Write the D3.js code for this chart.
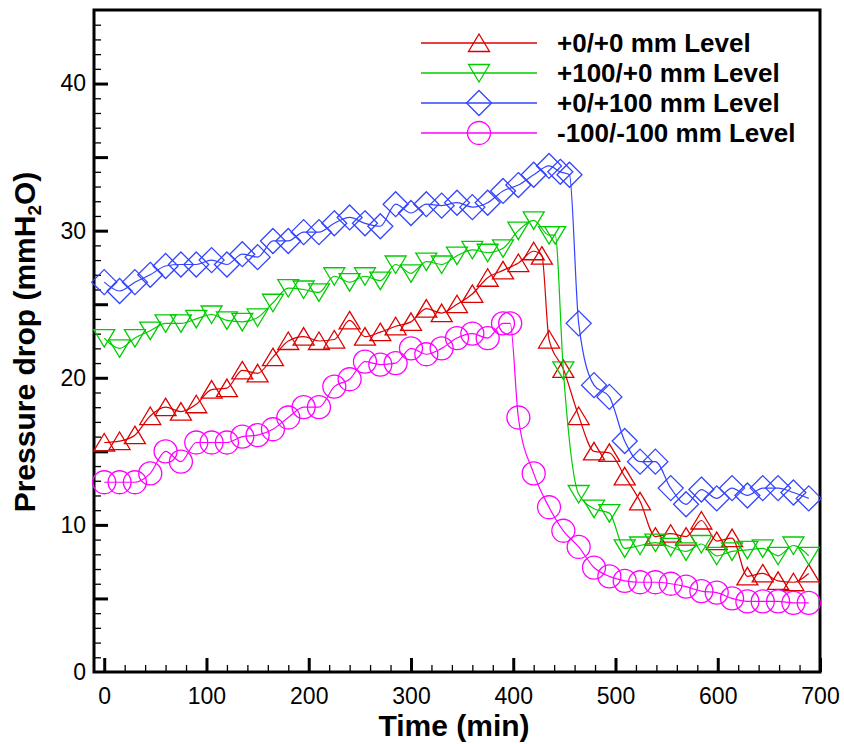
<!DOCTYPE html>
<html>
<head>
<meta charset="utf-8">
<script src="https://cdn.jsdelivr.net/npm/d3@7"></script>
<style>
  body { margin: 0; background: #fff; }
  text { font-family: Arial, "Liberation Sans", sans-serif; }
</style>
</head>
<body>
<div id="chart"></div>
<script>
// values
var timeRed = [0,15,30,45,60,75,90,105,120,135,150,165,180,195,210,225,240,255,270,285,300,315,330,345,360,375,390,405,420,428,435,449,464,479,494,509,524,539,554,569,584,599,614,629,644,659,674,689];
var pdRed = [15.6,15.7,16.1,17.4,18.0,17.7,18.2,19.2,19.3,20.5,20.3,21.4,22.5,22.8,22.5,22.6,23.9,22.8,23.1,23.5,23.8,24.7,24.4,25.0,25.7,26.8,27.3,27.8,28.6,28.3,22.6,20.6,17.4,15.0,14.9,13.3,11.6,9.2,9.4,9.2,10.3,8.9,9.1,6.5,6.7,6.2,6.1,6.7];

var timeGreen = [0,15,30,45,60,75,90,105,120,135,150,165,180,195,210,225,240,255,270,285,300,315,330,345,360,375,390,405,420,435,441,449,464,479,494,509,524,539,554,569,584,599,614,629,644,659,674,689];
var pdGreen = [22.7,22.0,22.7,23.2,23.7,23.7,24.0,24.3,23.9,23.8,24.1,25.1,26.1,26.0,25.8,26.9,26.5,26.9,26.6,27.7,27.1,27.9,27.7,28.3,28.7,28.5,28.8,30.0,30.7,29.7,29.7,20.5,12.1,11.1,10.8,8.4,8.6,8.8,8.5,8.2,8.7,7.9,8.2,8.3,8.4,7.9,8.6,7.9];

var timeBlue = [0,15,30,45,60,75,90,105,120,135,150,165,180,195,210,225,240,255,270,285,300,315,330,345,360,375,390,405,420,435,446,455,464,479,494,509,524,539,554,569,584,599,614,629,644,659,674,689];
var pdBlue = [26.5,25.9,26.5,27.0,27.6,27.7,27.7,28.0,27.7,28.4,28.2,29.3,29.3,29.9,29.9,30.5,30.9,30.5,30.3,31.8,31.2,31.8,31.7,31.9,31.6,31.9,32.7,33.1,33.8,34.4,34.0,33.8,23.7,19.5,18.7,15.7,14.3,14.3,12.5,11.4,12.4,11.8,12.5,12.0,12.5,12.5,12.2,11.8];

var timePink = [0,15,30,45,60,75,90,105,120,135,150,165,180,195,210,225,240,255,270,285,300,315,330,345,360,375,390,397,405,420,435,449,464,479,494,509,524,539,554,569,584,599,614,629,644,659,674,689];
var pdPink = [12.9,12.9,12.9,13.5,15.0,14.3,15.6,15.6,15.6,16.0,16.1,16.5,17.3,18.0,18.0,19.4,19.9,21.1,20.9,21.0,22.0,21.6,22.0,22.7,23.0,22.7,23.7,23.7,17.3,13.5,11.2,9.6,8.5,7.1,6.5,6.2,6.1,6.1,6.0,5.8,5.5,5.4,5.0,4.8,4.8,4.8,4.7,4.7];

var seriesNames = ["+0/+0 mm Level", "+100/+0 mm Level", "+0/+100 mm Level", "-100/-100 mm Level"];
var xTickLabels = [0,100,200,300,400,500,600,700];
var yTickLabels = [0,10,20,30,40];

var svgWidth = 844, svgHeight = 744;
var plotLeft = 94, plotRight = 820, plotTop = 10, plotBottom = 672;

var svg = d3.select("#chart").append("svg")
  .attr("width", svgWidth)
  .attr("height", svgHeight);

var x = d3.scaleLinear().domain([-10, 700]).range([plotLeft, plotRight]);
var y = d3.scaleLinear().domain([0, 45]).range([plotBottom, plotTop]);

// minor and major ticks, pointing inward
function tickAxis(axis, vals, size, width) {
  return function(g) {
    g.call(axis.tickValues(vals).tickSize(size).tickFormat(""));
    g.select(".domain").remove();
    g.selectAll(".tick line").attr("stroke", "#000").attr("stroke-width", width);
  };
}
svg.append("g").attr("transform", `translate(${plotLeft},0)`)
  .call(tickAxis(d3.axisLeft(y), d3.range(1, 45, 1), -7, 1.3));
svg.append("g").attr("transform", `translate(${plotLeft},0)`)
  .call(tickAxis(d3.axisLeft(y), d3.range(5, 45, 5), -14, 3));
svg.append("g").attr("transform", `translate(0,${plotBottom})`)
  .call(tickAxis(d3.axisBottom(x), d3.range(20, 700, 20), -7, 1.3));
svg.append("g").attr("transform", `translate(0,${plotBottom})`)
  .call(tickAxis(d3.axisBottom(x), xTickLabels, -14, 3));

// tick labels
var yLab = svg.append("g").attr("transform", `translate(${plotLeft},0)`)
  .call(d3.axisLeft(y).tickValues(yTickLabels).tickSize(0).tickPadding(8));
yLab.select(".domain").remove();
yLab.selectAll("text").style("font-size", "23px").attr("fill", "#000")
  .style("font-family", "Arial, 'Liberation Sans', sans-serif");

var xLab = svg.append("g").attr("transform", `translate(0,${plotBottom})`)
  .call(d3.axisBottom(x).tickValues(xTickLabels).tickSize(0).tickPadding(16));
xLab.select(".domain").remove();
xLab.selectAll("text").style("font-size", "23px").attr("fill", "#000")
  .style("font-family", "Arial, 'Liberation Sans', sans-serif");

// frame
svg.append("rect")
  .attr("x", plotLeft).attr("y", plotTop)
  .attr("width", plotRight - plotLeft).attr("height", plotBottom - plotTop)
  .attr("fill", "none").attr("stroke", "#000").attr("stroke-width", 3);

// axis titles
svg.append("text")
  .attr("x", (plotLeft + plotRight) / 2 - 3).attr("y", 736)
  .attr("text-anchor", "middle")
  .style("font-size", "30px").style("font-weight", "bold")
  .text("Time (min)");

var yt = svg.append("text")
  .attr("transform", "translate(35,342) rotate(-90)")
  .attr("text-anchor", "middle")
  .style("font-size", "30px").style("font-weight", "bold");
yt.append("tspan").text("Pressure drop (mmH");
yt.append("tspan").attr("baseline-shift", "-30%").style("font-size", "19px").text("2");
yt.append("tspan").text("O)");

// markers
var shapes = [
  function(g) { g.append("path").attr("d", "M0,-9L10.5,8.5L-10.5,8.5Z"); },
  function(g) { g.append("path").attr("d", "M0,9L10.5,-8.5L-10.5,-8.5Z"); },
  function(g) { g.append("path").attr("d", "M0,-12.5L12.5,0L0,12.5L-12.5,0Z"); },
  function(g) { g.append("circle").attr("r", 11.5); }
];
var colors = ["#dd0000", "#00cc00", "#3344ff", "#ff00ff"];
var times = [timeRed, timeGreen, timeBlue, timePink];
var values = [pdRed, pdGreen, pdBlue, pdPink];

var line = d3.line()
  .x(d => x(d[0]))
  .y(d => y(d[1]))
  .curve(d3.curveMonotoneX);

times.forEach(function(ts, i) {
  var pts = ts.map((t, j) => [t, values[i][j]]);
  var g = svg.append("g");
  g.append("path")
    .attr("d", line(pts))
    .attr("fill", "none")
    .attr("stroke", colors[i])
    .attr("stroke-width", 1.2);
  var mk = g.selectAll("g.mk")
    .data(pts)
    .enter()
    .append("g")
    .attr("class", "mk")
    .attr("transform", d => `translate(${x(d[0])},${y(d[1])})`)
    .each(function() { shapes[i](d3.select(this)); });
  mk.selectAll("path, circle")
    .attr("fill", "none")
    .attr("stroke", colors[i])
    .attr("stroke-width", 1.3);
});

// legend
var legendY = [43, 73, 103, 133];
seriesNames.forEach(function(name, i) {
  var lg = svg.append("g").attr("transform", `translate(0,${legendY[i]})`);
  lg.append("line")
    .attr("x1", 421).attr("x2", 537)
    .attr("stroke", colors[i]).attr("stroke-width", 1.3);
  var m = lg.append("g").attr("transform", "translate(479,0)");
  shapes[i](m);
  m.selectAll("path, circle").attr("fill", "none").attr("stroke", colors[i]).attr("stroke-width", 1.3);
  lg.append("text")
    .attr("x", 557).attr("y", 9)
    .style("font-size", "26px").style("font-weight", "bold")
    .text(name);
});
</script>
</body>
</html>
